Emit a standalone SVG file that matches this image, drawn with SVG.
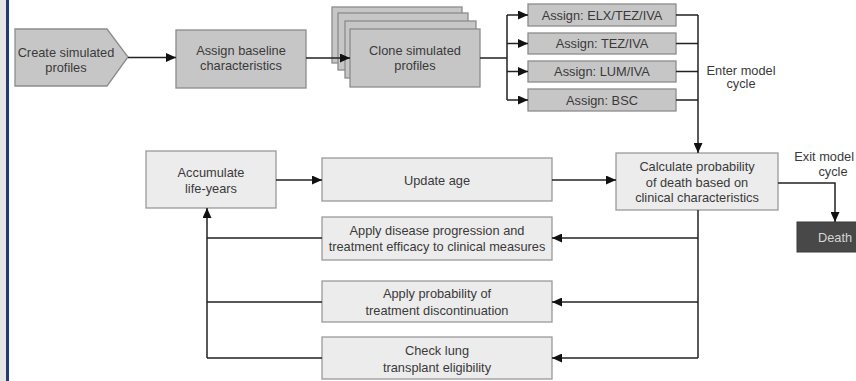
<svg xmlns="http://www.w3.org/2000/svg" width="856" height="381" viewBox="0 0 856 381">
<defs>
<marker id="ah" markerUnits="userSpaceOnUse" markerWidth="10" markerHeight="9" refX="10" refY="4.5" orient="auto">
<path d="M0,0 L10,4.5 L0,9 z" fill="#111"/>
</marker>
<style>
.dk{fill:#c6c6c6;stroke:#8c8c8c;stroke-width:1.3}
.lt{fill:#ececec;stroke:#9a9a9a;stroke-width:1.3}
.t{font-family:"Liberation Sans",Arial,sans-serif;font-size:12.8px;fill:#3a3a3a;text-anchor:middle}
.c{fill:none;stroke:#222;stroke-width:1.5}
.a{marker-end:url(#ah)}
</style>
</defs>
<rect x="0" y="0" width="856" height="381" fill="#fff"/>
<rect x="0" y="0" width="6" height="381" fill="#e6e6e6"/>
<rect x="6" y="0" width="3" height="381" fill="#213e6e"/>

<g id="create">
<path class="dk" d="M15,29 L107,29 L128,57 L107,86 L15,86 z"/>
<text class="t" x="66" y="57">Create simulated</text>
<text class="t" x="66" y="72">profiles</text>
</g>
<g id="baseline">
<rect class="dk" x="176" y="30" width="130" height="58"/>
<text class="t" x="241" y="54.5">Assign baseline</text>
<text class="t" x="241" y="69.5">characteristics</text>
</g>
<g id="clone">
<rect class="dk" x="332" y="7" width="130" height="56"/>
<rect class="dk" x="338" y="13" width="130" height="57"/>
<rect class="dk" x="345" y="21" width="131" height="57"/>
<rect class="dk" x="350" y="29" width="130" height="58"/>
<text class="t" x="415" y="54.5">Clone simulated</text>
<text class="t" x="415" y="69.5">profiles</text>
</g>
<g id="elx">
<rect class="dk" x="528" y="4" width="148" height="22"/>
<text class="t" x="602" y="19.5">Assign: ELX/TEZ/IVA</text>
</g>
<g id="tez">
<rect class="dk" x="528" y="33" width="148" height="21"/>
<text class="t" x="602" y="48">Assign: TEZ/IVA</text>
</g>
<g id="lum">
<rect class="dk" x="528" y="61" width="148" height="21"/>
<text class="t" x="602" y="76">Assign: LUM/IVA</text>
</g>
<g id="bsc">
<rect class="dk" x="528" y="89" width="148" height="22"/>
<text class="t" x="602" y="104.5">Assign: BSC</text>
</g>
<g id="enter-label">
<text class="t" x="741" y="74.5">Enter model</text>
<text class="t" x="741" y="88">cycle</text>
</g>
<g id="calc">
<rect class="lt" x="616" y="153" width="162" height="57"/>
<text class="t" x="697" y="170.5">Calculate probability</text>
<text class="t" x="697" y="186.5">of death based on</text>
<text class="t" x="697" y="201.5">clinical characteristics</text>
</g>
<g id="exit-label">
<text class="t" x="854" y="160.5" style="text-anchor:end">Exit model</text>
<text class="t" x="833" y="175.5">cycle</text>
</g>
<g id="death">
<rect x="797" y="222" width="70" height="30" fill="#484848" stroke="#3a3a3a"/>
<text class="t" x="835" y="241.5" style="fill:#d4d4d4">Death</text>
</g>
<g id="accumulate">
<rect class="lt" x="146" y="151" width="130" height="57"/>
<text class="t" x="211" y="176.5">Accumulate</text>
<text class="t" x="211" y="192.5">life-years</text>
</g>
<g id="update">
<rect class="lt" x="322" y="158" width="230" height="43"/>
<text class="t" x="437" y="184.5">Update age</text>
</g>
<g id="progression">
<rect class="lt" x="322" y="217" width="230" height="43"/>
<text class="t" x="437" y="234.5">Apply disease progression and</text>
<text class="t" x="437" y="250.5">treatment efficacy to clinical measures</text>
</g>
<g id="discontinuation">
<rect class="lt" x="322" y="281" width="230" height="41"/>
<text class="t" x="437" y="297.5">Apply probability of</text>
<text class="t" x="437" y="314.5">treatment discontinuation</text>
</g>
<g id="transplant">
<rect class="lt" x="322" y="337" width="230" height="42"/>
<text class="t" x="437" y="354.5">Check lung</text>
<text class="t" x="437" y="371.5">transplant eligibility</text>
</g>

<g id="connectors">
<line class="c a" x1="128" y1="57.5" x2="176" y2="57.5"/>
<line class="c a" x1="306" y1="58" x2="350" y2="58"/>
<path class="c" d="M480,58 H507 M507,15 V100"/>
<line class="c a" x1="507" y1="15" x2="528" y2="15"/>
<line class="c a" x1="507" y1="43.5" x2="528" y2="43.5"/>
<line class="c a" x1="507" y1="71.5" x2="528" y2="71.5"/>
<line class="c a" x1="507" y1="100" x2="528" y2="100"/>
<path class="c" d="M676,15 H698 M676,43.5 H698 M676,71.5 H698 M676,100 H698"/>
<path class="c a" d="M698,15 V153"/>
<path class="c a" d="M778,183 H835 V222"/>
<line class="c a" x1="276" y1="180" x2="322" y2="180"/>
<line class="c a" x1="552" y1="180" x2="616" y2="180"/>
<path class="c" d="M698,210 V358"/>
<line class="c a" x1="698" y1="238" x2="552" y2="238"/>
<line class="c a" x1="698" y1="302" x2="552" y2="302"/>
<line class="c a" x1="698" y1="358" x2="552" y2="358"/>
<path class="c" d="M322,238 H207 M322,302 H207 M322,358 H207"/>
<path class="c a" d="M207,358 V208"/>
</g>
</svg>
